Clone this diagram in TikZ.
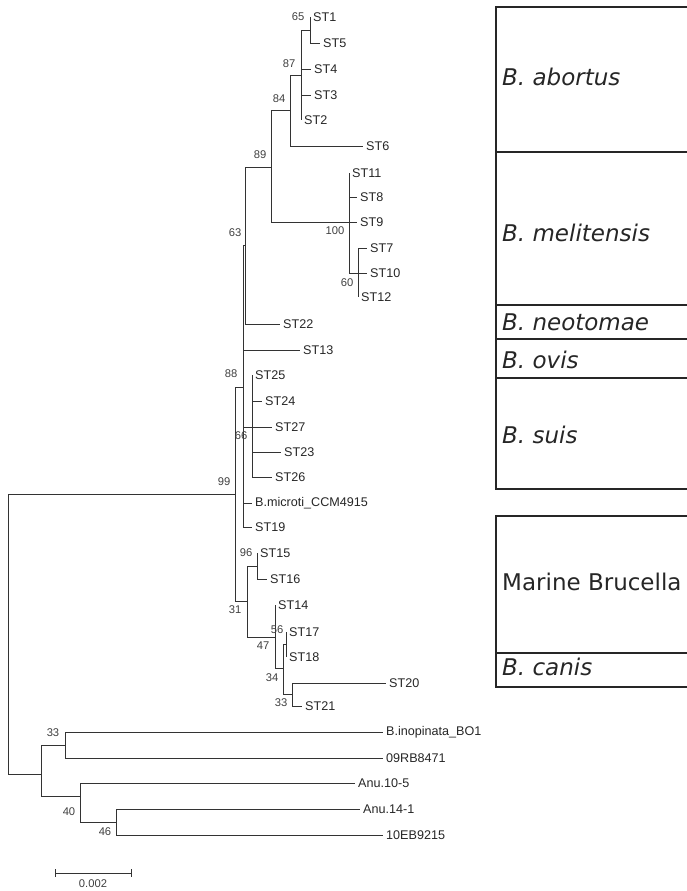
\documentclass[tikz,border=0pt]{standalone}
\usepackage{fontspec}
\setmainfont{Liberation Sans}
\newfontfamily\boxfont{DejaVu Sans}
\begin{document}
\begin{tikzpicture}[x=1pt,y=-1pt]
        \useasboundingbox (0,0) rectangle (686,891);
        \tikzstyle{every node}=[text=black!85]
        \tikzstyle{leaf}=[anchor=west, inner xsep=3pt, inner ysep=0pt, font=\fontsize{12.6}{14}\selectfont]
        \tikzstyle{boot}=[inner sep=0pt, font=\fontsize{11.2}{13}\selectfont, text=black!75]
        \tikzstyle{clade}=[anchor=west, inner sep=0pt, font=\boxfont\fontsize{23}{27}\selectfont]
        \tikzstyle{branch}=[draw=black!80, line width=0.9pt]
        \tikzstyle{frame}=[draw=black!85, line width=1.3pt]
        \tikzstyle{thickframe}=[draw=black!85, line width=2.2pt]
        % inner nodes of the tree
        \coordinate (root) at (8,634);
        \coordinate (n99)  at (235,494);
        \coordinate (n88)  at (243,387);
        \coordinate (n63)  at (245,245);
        \coordinate (n89)  at (271,167);
        \coordinate (n84)  at (290,110);
        \coordinate (n87)  at (301,75);
        \coordinate (n65)  at (310,30);
        \coordinate (n100) at (349,222);
        \coordinate (n60)  at (358,273);
        \coordinate (n66)  at (252,427);
        \coordinate (n31)  at (247,601);
        \coordinate (n96)  at (257,566);
        \coordinate (n47)  at (275,637);
        \coordinate (n34)  at (283,668);
        \coordinate (n56)  at (286,644);
        \coordinate (n33b) at (292,694);
        \coordinate (nout) at (41,774);
        \coordinate (n33a) at (65,745);
        \coordinate (n40)  at (80,796);
        \coordinate (n46)  at (116,822);
        % sequence types
        \node[leaf] (st1)  at (310,17)  {ST1};
        \node[leaf] (st5)  at (320,43)  {ST5};
        \node[leaf] (st4)  at (311,69)  {ST4};
        \node[leaf] (st3)  at (311,95)  {ST3};
        \node[leaf] (st2)  at (301,120) {ST2};
        \node[leaf] (st6)  at (363,146) {ST6};
        \node[leaf] (st11) at (349,173) {ST11};
        \node[leaf] (st8)  at (357,197) {ST8};
        \node[leaf] (st9)  at (357,222) {ST9};
        \node[leaf] (st7)  at (367,248) {ST7};
        \node[leaf] (st10) at (367,273) {ST10};
        \node[leaf] (st12) at (358,297) {ST12};
        \node[leaf] (st22) at (280,324) {ST22};
        \node[leaf] (st13) at (300,350) {ST13};
        \node[leaf] (st25) at (252,375) {ST25};
        \node[leaf] (st24) at (262,401) {ST24};
        \node[leaf] (st27) at (272,427) {ST27};
        \node[leaf] (st23) at (281,452) {ST23};
        \node[leaf] (st26) at (272,477) {ST26};
        \node[leaf] (micr) at (252,503) {B.microti\_CCM4915};
        \node[leaf] (st19) at (252,527) {ST19};
        \node[leaf] (st15) at (257,553) {ST15};
        \node[leaf] (st16) at (267,579) {ST16};
        \node[leaf] (st14) at (275,605) {ST14};
        \node[leaf] (st17) at (286,632) {ST17};
        \node[leaf] (st18) at (286,657) {ST18};
        \node[leaf] (st20) at (386,683) {ST20};
        \node[leaf] (st21) at (302,706) {ST21};
        \node[leaf] (inop) at (383,732) {B.inopinata\_BO1};
        \node[leaf] (rb)   at (383,758) {09RB8471};
        \node[leaf] (anua) at (355,783) {Anu.10-5};
        \node[leaf] (anub) at (360,809) {Anu.14-1};
        \node[leaf] (eb)   at (383,835) {10EB9215};
        \foreach \a/\b in {root/n99, root/nout, n99/n88, n99/n31,
                n88/n63, n88/st13, n88/n66, n88/micr, n88/st19,
                n63/n89, n63/st22, n89/n84, n89/n100,
                n84/n87, n84/st6, n87/n65, n87/st4, n87/st3, n87/st2,
                n65/st1, n65/st5,
                n100/st11, n100/st8, n100/st9, n100/n60,
                n60/st7, n60/st10, n60/st12,
                n66/st25, n66/st24, n66/st27, n66/st23, n66/st26,
                n31/n96, n31/n47, n96/st15, n96/st16,
                n47/st14, n47/n34, n34/n56, n34/n33b,
                n56/st17, n56/st18, n33b/st20, n33b/st21,
                nout/n33a, nout/n40, n33a/inop, n33a/rb,
                n40/anua, n40/n46, n46/anub, n46/eb}
            \draw[branch] (\a) |- (\b);
        % bootstrap values
        \node[boot] (b65)  at (298,17)  {65};
        \node[boot] (b87)  at (289,64)  {87};
        \node[boot] (b84)  at (279,99)  {84};
        \node[boot] (b89)  at (260,155) {89};
        \node[boot] (b63)  at (235,233) {63};
        \node[boot] (b100) at (335,231) {100};
        \node[boot] (b60)  at (347,283) {60};
        \node[boot] (b88)  at (231,374) {88};
        \node[boot] (b66)  at (241,436) {66};
        \node[boot] (b99)  at (224,482) {99};
        \node[boot] (b96)  at (246,553) {96};
        \node[boot] (b31)  at (235,610) {31};
        \node[boot] (b47)  at (263,646) {47};
        \node[boot] (b56)  at (277,630) {56};
        \node[boot] (b34)  at (272,678) {34};
        \node[boot] (b33b) at (281,703) {33};
        \node[boot] (b33a) at (53,733)  {33};
        \node[boot] (b40)  at (69,812)  {40};
        \node[boot] (b46)  at (105,832) {46};
        % scale bar
        \coordinate (sbl) at (55,873);
        \coordinate (sbr) at (132,873);
        \draw[branch, |-|] (sbl) -- (sbr);
        \node[boot] (sblabel) at (93,884) {0.002};
        % species boxes
        \draw[frame] (496,7) rectangle (700,489);
        \draw[frame] (496,152) -- (700,152);
        \draw[thickframe] (496,305) -- (700,305);
        \draw[frame] (496,339) -- (700,339);
        \draw[thickframe] (496,378) -- (700,378);
        \draw[frame] (496,516) rectangle (700,687);
        \draw[frame] (496,653) -- (700,653);
        \node[clade] (abortus)    at (502,77)  {\itshape B. abortus};
        \node[clade] (melitensis) at (502,233) {\itshape B. melitensis};
        \node[clade] (neotomae)   at (502,322) {\itshape B. neotomae};
        \node[clade] (ovis)       at (502,360) {\itshape B. ovis};
        \node[clade] (suis)       at (502,435) {\itshape B. suis};
        \node[clade] (marine)     at (502,582) {Marine Brucella};
        \node[clade] (canis)      at (502,667) {\itshape B. canis};
    \end{tikzpicture}
\end{document}
